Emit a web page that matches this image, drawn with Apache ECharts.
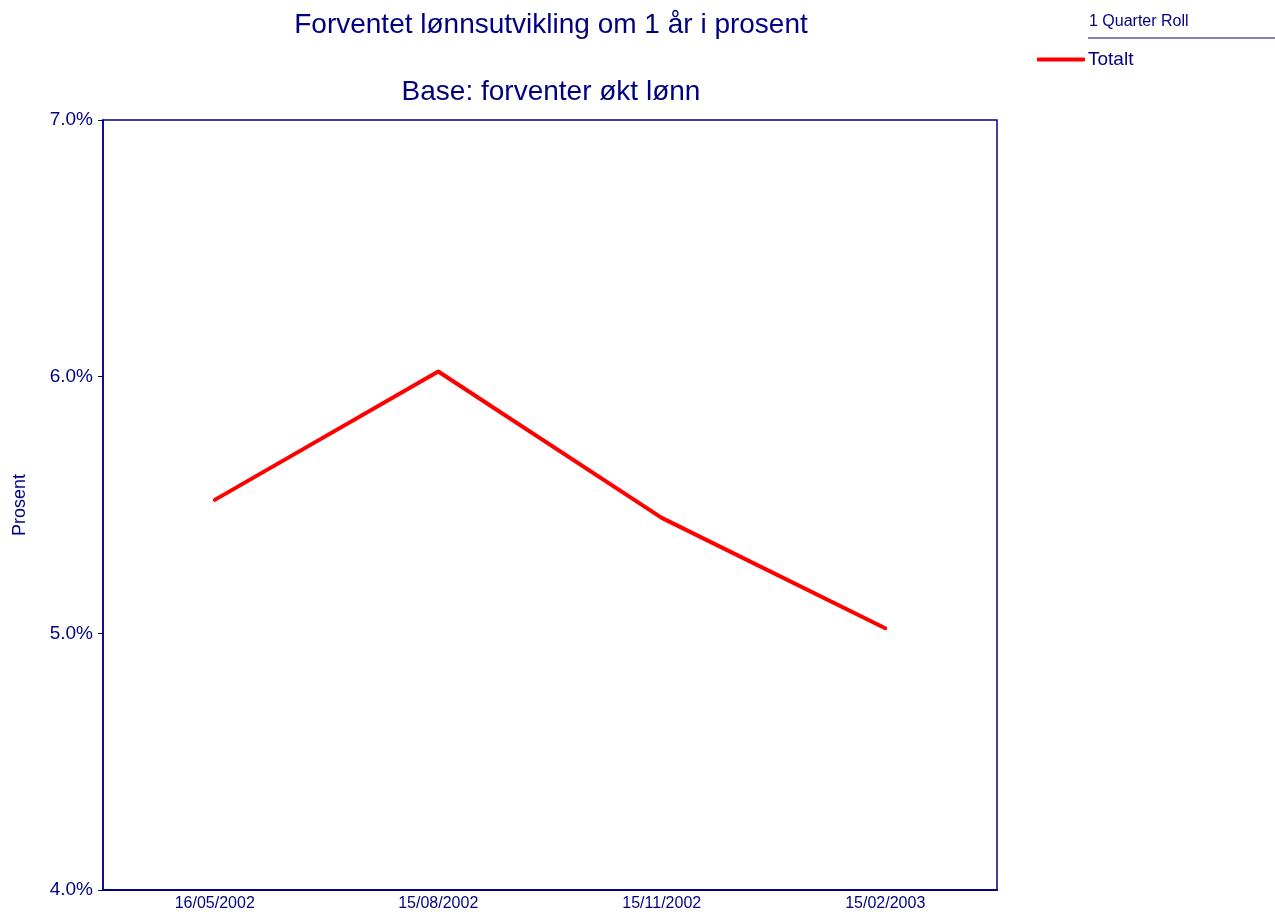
<!DOCTYPE html>
<html>
<head>
<meta charset="utf-8">
<script src="https://cdn.jsdelivr.net/npm/echarts@6/dist/echarts.min.js"></script>
<style>
  html, body { margin: 0; padding: 0; background: #fff; }
  #echart { width: 1275px; height: 914px; }
</style>
</head>
<body>
<div id="echart"></div>
<script>
var dates = ['16/05/2002', '15/08/2002', '15/11/2002', '15/02/2003'];
var totalt = [5.52, 6.02, 5.45, 5.02];
var yTicks = [4, 5, 6, 7];

var navy = '#000080';
var font = 'Arial, "Liberation Sans", sans-serif';

var myChart = echarts.init(document.getElementById('echart'));
var option = {
    backgroundColor: '#fff',
    textStyle: { fontFamily: font },
    title: [
        {
            text: 'Forventet lønnsutvikling om 1 år i prosent',
            left: 546, top: 6, textAlign: 'center',
            textStyle: { color: navy, fontSize: 28, fontWeight: 'normal', fontFamily: font }
        },
        {
            text: 'Base: forventer økt lønn',
            left: 546, top: 73, textAlign: 'center',
            textStyle: { color: navy, fontSize: 28, fontWeight: 'normal', fontFamily: font }
        }
    ],
    legend: {
        left: 1032, top: 45,
        orient: 'vertical',
        icon: 'roundRect',
        itemWidth: 48, itemHeight: 4, itemGap: 4,
        textStyle: { color: navy, fontSize: 19, fontFamily: font, padding: [0, 0, 0, -2] },
        data: ['Totalt']
    },
    graphic: [
        {
            type: 'text', left: 1089, top: 14,
            style: { text: '1 Quarter Roll', fill: navy, fontSize: 16, fontFamily: font }
        },
        {
            type: 'line',
            shape: { x1: 1088, y1: 38, x2: 1275, y2: 38 },
            style: { stroke: navy, lineWidth: 1 }
        }
    ],
    grid: {
        left: 103, right: 278, top: 120, bottom: 24,
        outerBoundsMode: 'none',
        containLabel: false,
        show: true, borderColor: navy, borderWidth: 1.5
    },
    xAxis: {
        type: 'category',
        data: dates,
        boundaryGap: true,
        axisLine: { lineStyle: { color: navy, width: 2 } },
        axisTick: { alignWithLabel: true, length: 4, lineStyle: { color: navy } },
        axisLabel: { color: navy, fontSize: 16, margin: 6, fontFamily: font }
    },
    yAxis: {
        type: 'value',
        min: yTicks[0], max: yTicks[yTicks.length - 1], interval: 1,
        name: 'Prosent',
        nameLocation: 'middle',
        nameGap: 74,
        nameTextStyle: { color: navy, fontSize: 18, fontFamily: font },
        axisLine: { show: true, lineStyle: { color: navy, width: 1.5 } },
        axisTick: { show: true, length: 5, lineStyle: { color: navy } },
        splitLine: { show: false },
        axisLabel: {
            color: navy, fontSize: 19, margin: 10, fontFamily: font,
            formatter: function (v) { return v.toFixed(1) + '%'; }
        }
    },
    series: [
        {
            name: 'Totalt',
            type: 'line',
            data: totalt,
            symbol: 'none',
            smooth: false,
            color: '#ff0000',
            lineStyle: { color: '#ff0000', width: 4, cap: 'round', join: 'round' }
        }
    ]
};
myChart.setOption(option);
</script>
</body>
</html>
